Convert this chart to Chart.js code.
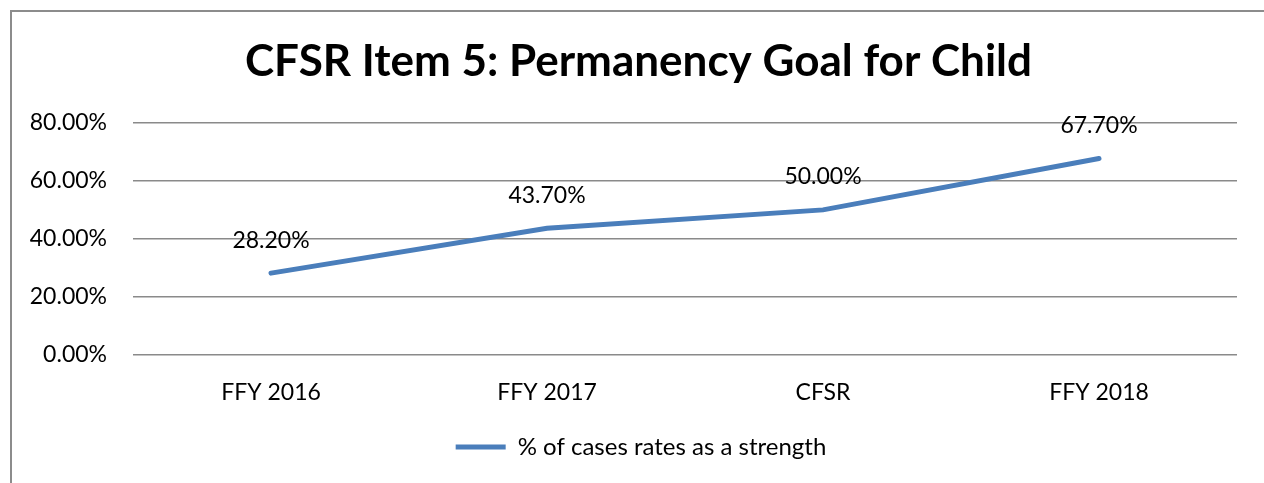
<!DOCTYPE html>
<html>
<head>
<meta charset="utf-8">
<script src="https://cdn.jsdelivr.net/npm/chart.js@4"></script>
<style>
    body { margin: 0; background: #fff; overflow: hidden; }
    #frame { position: absolute; left: 10px; top: 10px; width: 1400px; height: 600px; border: 2px solid #8c8c8c; }
    #chart { position: absolute; left: 0; top: 0; }
</style>
</head>
<body>
<div id="frame"></div>
<canvas id="chart" width="1264" height="483"></canvas>
<script>
    const categories = ['FFY 2016', 'FFY 2017', 'CFSR', 'FFY 2018']
    const strengthValues = [28.2, 43.7, 50.0, 67.7]
    const seriesName = '% of cases rates as a strength'
    const titleText = 'CFSR Item 5: Permanency Goal for Child'

    const fontFamily = 'Lato, "Open Sans", sans-serif'

    // value labels above each point
    const valueLabels = {
        id: 'valueLabels',
        afterDatasetsDraw(chart) {
            const ctx = chart.ctx
            const meta = chart.getDatasetMeta(0)
            ctx.save()
            ctx.font = '23px ' + fontFamily
            ctx.fillStyle = '#000'
            ctx.textAlign = 'center'
            ctx.textBaseline = 'middle'
            meta.data.forEach((pt, i) => {
                ctx.fillText(strengthValues[i].toFixed(2) + '%', pt.x, pt.y - 33)
            })
            ctx.restore()
        }
    }

    // title and legend sit a bit right of the canvas centre, like the original
    const shiftBoxes = {
        id: 'shiftBoxes',
        afterLayout(chart) {
            if (chart.titleBlock) chart.titleBlock.left = 40
            if (chart.legend) chart.legend.left = 45
        }
    }

    new Chart(document.getElementById('chart').getContext('2d'), {
        type: 'line',
        data: {
            labels: categories,
            datasets: [{
                label: seriesName,
                data: strengthValues,
                borderColor: '#4a7ebb',
                backgroundColor: '#4a7ebb',
                borderWidth: 5,
                borderCapStyle: 'round',
                pointRadius: 0,
                tension: 0,
            }]
        },
        options: {
            responsive: false,
            animation: false,
            layout: {padding: {left: 0, right: 27, top: 0, bottom: 14}},
            scales: {
                x: {
                    offset: true,
                    grid: {display: false, drawTicks: false},
                    border: {display: false},
                    ticks: {color: '#000', padding: 24, font: {family: fontFamily, size: 23}},
                    afterFit: (scale) => { scale.height = 70 }
                },
                y: {
                    min: 0,
                    max: 80,
                    grid: {color: '#8a8a8a', lineWidth: 1.5, drawTicks: false},
                    border: {display: false},
                    ticks: {
                        stepSize: 20,
                        color: '#000',
                        padding: 26,
                        font: {family: fontFamily, size: 23},
                        callback: (v) => v.toFixed(2) + '%'
                    },
                    afterFit: (scale) => { scale.width = 133 }
                }
            },
            plugins: {
                title: {
                    display: true,
                    text: titleText,
                    color: '#000',
                    font: {family: fontFamily, size: 44, weight: 'bold'},
                    padding: {top: 35, bottom: 35}
                },
                legend: {
                    position: 'bottom',
                    labels: {
                        usePointStyle: true,
                        pointStyle: 'line',
                        pointStyleWidth: 50,
                        color: '#000',
                        font: {family: fontFamily, size: 24},
                        padding: 10
                    }
                },
                tooltip: {enabled: false}
            }
        },
        plugins: [valueLabels, shiftBoxes]
    })
</script>
</body>
</html>
